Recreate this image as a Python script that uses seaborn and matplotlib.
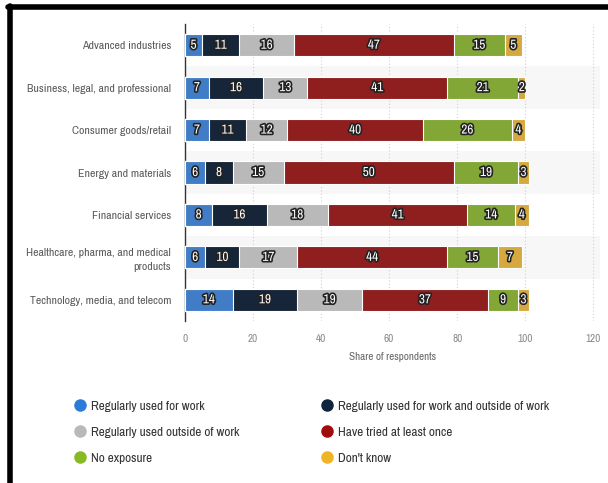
import matplotlib.pyplot as plt
import matplotlib.patheffects as pe
from matplotlib.lines import Line2D
import numpy as np
import pandas as pd
import seaborn as sns

# Chart data
industries = [
    "Advanced industries",
    "Business, legal, and professional",
    "Consumer goods/retail",
    "Energy and materials",
    "Financial services",
    "Healthcare, pharma, and medical\nproducts",
    "Technology, media, and telecom",
]
series_names = [
    "Regularly used for work",
    "Regularly used for work and outside of work",
    "Regularly used outside of work",
    "Have tried at least once",
    "No exposure",
    "Don't know",
]
used_for_work = [5, 7, 7, 6, 8, 6, 14]
work_and_outside = [11, 16, 11, 8, 16, 10, 19]
outside_of_work = [16, 13, 12, 15, 18, 17, 19]
tried_once = [47, 41, 40, 50, 41, 44, 37]
no_exposure = [15, 21, 26, 19, 14, 15, 9]
dont_know = [5, 2, 4, 3, 4, 7, 3]
colors = ["#2b7bdd", "#10243d", "#b9b9b9", "#a20b0c", "#88ba23", "#eeb326"]

values = np.array([used_for_work, work_and_outside, outside_of_work,
                   tried_once, no_exposure, dont_know])
cum = values.cumsum(axis=0)

sns.set_theme(style="white")
plt.rcParams["font.family"] = ["Archivo Narrow", "DejaVu Sans"]

fig = plt.figure(figsize=(6.08, 4.83), dpi=100)
ax = fig.add_axes([185 / 608, 1 - 321 / 483, 415 / 608, 297 / 483])

# alternating row bands
for i in range(1, len(industries), 2):
    ax.axhspan(i - 0.5, i + 0.5, color="#f7f7f7", zorder=0, lw=0)

# stacked bars: draw cumulative totals back to front
for k in range(len(series_names) - 1, -1, -1):
    df = pd.DataFrame({"industry": industries, "value": cum[k]})
    sns.barplot(data=df, x="value", y="industry", orient="h", color=colors[k],
                width=0.52, edgecolor="white", linewidth=0.8, ax=ax, zorder=3)

stroke = [pe.withStroke(linewidth=2.4, foreground="#222222")]
for k in range(len(series_names)):
    for i in range(len(industries)):
        v = values[k, i]
        ax.text(cum[k, i] - v / 2, i, str(v), ha="center", va="center",
                color="white", fontsize=9.5, fontweight="bold",
                path_effects=stroke, zorder=5)

ax.set_xlim(0, 122)
ax.set_ylim(6.5, -0.5)
ax.set_xticks([0, 20, 40, 60, 80, 100, 120])
ax.xaxis.grid(True, linestyle=(0, (1, 2)), color="#d0d0d0", lw=0.8)
ax.set_axisbelow(True)
for s in ["top", "right", "bottom"]:
    ax.spines[s].set_visible(False)
ax.spines["left"].set_color("#333333")
ax.spines["left"].set_linewidth(1)
ax.tick_params(axis="x", length=0, pad=9, labelsize=8, labelcolor="#8a8a8a")
ax.tick_params(axis="y", length=0, pad=10, labelsize=8.5, labelcolor="#5a5a5a")
for lbl in ax.get_yticklabels():
    lbl.set_horizontalalignment("right")
    lbl.set_multialignment("right")
    lbl.set_linespacing(1.45)
ax.set_ylabel("")
ax.set_xlabel("Share of respondents", fontsize=8, color="#666666", labelpad=6)

# legend in two columns
def handle(c):
    return Line2D([], [], marker="o", linestyle="", markersize=8,
                  markerfacecolor=c, markeredgecolor=c)

left_idx = [0, 2, 4]
right_idx = [1, 3, 5]
for idx, x0 in [(left_idx, 68 / 608), (right_idx, 315 / 608)]:
    fig.legend([handle(colors[i]) for i in idx], [series_names[i] for i in idx],
               loc="upper left", bbox_to_anchor=(x0, 1 - 395 / 483), frameon=False,
               fontsize=9.5, labelcolor="#333333", handlelength=1.0,
               handletextpad=0.35, labelspacing=1.12, borderaxespad=0)

# black frame from the screenshot
fig.add_artist(Line2D([9.5 / 608, 9.5 / 608], [0, 1 - 6 / 483],
                      transform=fig.transFigure, color="black", lw=4))
fig.add_artist(Line2D([8 / 608, 1], [1 - 7 / 483, 1 - 7 / 483],
                      transform=fig.transFigure, color="black", lw=4))

fig.savefig("out.png", dpi=100)
